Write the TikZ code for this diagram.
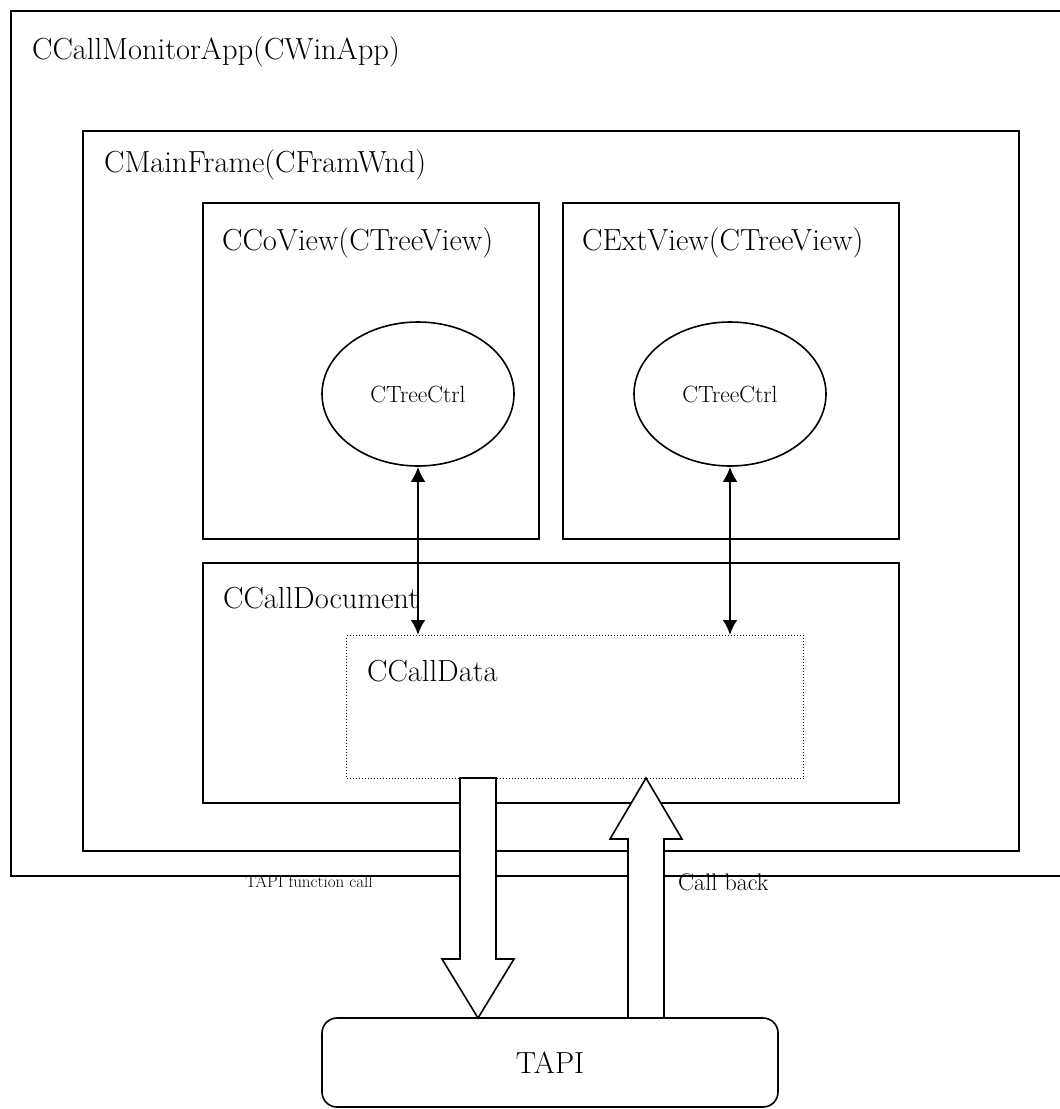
\documentclass[tikz,border=0pt]{standalone}
\usepackage{fontspec}
\usetikzlibrary{positioning, calc, shapes.geometric, arrows.meta}

\begin{document}
\begin{tikzpicture}[
    x=1pt, y=-1pt,
    frame/.style={
      draw, line width=1.6pt, anchor=north west, inner sep=0pt
    },
    title/.style={
      anchor=base west, inner sep=0pt, font=\fontsize{30.5}{36}\selectfont
    },
    ctrl/.style={
      ellipse, draw, line width=1.6pt, minimum width=192pt, minimum height=144pt,
      inner sep=0pt, font=\fontsize{23.5}{28}\selectfont
    },
    link/.style={line width=2.6pt, <->},
    bigarrow/.style={draw, line width=1.6pt, fill=white, line join=miter},
    >={Latex[length=15pt, width=15pt]},
  ]
    \useasboundingbox (0,0) rectangle (1060,1109);

    % frames
    \node [frame, minimum width=1052pt, minimum height=865pt] (app) at (10,10) {};
    \node [frame, minimum width=936pt, minimum height=720pt] (main_frame) at (82,130) {};
    \node [frame, minimum width=336pt, minimum height=336pt] (co_view) at (202,202) {};
    \node [frame, minimum width=336pt, minimum height=336pt] (ext_view) at (562,202) {};
    \node [frame, minimum width=696pt, minimum height=240pt] (call_doc) at (202,562) {};
    \node [frame, line width=1pt, dotted, minimum width=457pt, minimum height=143pt] (call_data) at (346,635) {};
    \node [frame, rounded corners=15pt, minimum width=456pt, minimum height=89pt, anchor=center] (tapi) at (550,1062.5) {};
    \node [font=\fontsize{30.5}{36}\selectfont] at (tapi.center) {TAPI};

    % titles
    \node [title] (app_title) at ($(app.north west)+(22,49)$) {CCallMonitorApp(CWinApp)};
    \node [title] (main_title) at ($(main_frame.north west)+(22,42)$) {CMainFrame(CFramWnd)};
    \node [title] (co_title) at ($(co_view.north west)+(20,48)$) {CCoView(CTreeView)};
    \node [title] (ext_title) at ($(ext_view.north west)+(20,48)$) {CExtView(CTreeView)};
    \node [title] (doc_title) at ($(call_doc.north west)+(21,46)$) {CCallDocument};
    \node [title] (data_title) at ($(call_data.north west)+(21,46)$) {CCallData};

    % tree controls
    \node [ctrl] (co_tree) at (418,394) {CTreeCtrl};
    \node [ctrl] (ext_tree) at (730,394) {CTreeCtrl};

    % links to the data
    \draw [link] (co_tree.south) -- (co_tree.south |- call_data.north);
    \draw [link] (ext_tree.south) -- (ext_tree.south |- call_data.north);

    % TAPI calls
    \coordinate (func_top) at (478,778);
    \coordinate (back_base) at (646,1018);
    \draw [bigarrow] (func_top) ++(-18,0) -- ++(0,181) -- ++(-18,0) -- ++(36,59)
      -- ++(36,-59) -- ++(-18,0) -- ++(0,-181) -- cycle;
    \draw [bigarrow] (back_base) ++(-18,0) -- ++(0,-179) -- ++(-18,0) -- ++(36,-61)
      -- ++(36,61) -- ++(-18,0) -- ++(0,179) -- cycle;
    \node [font=\fontsize{17}{20}\selectfont] (func_label) at (309,882) {TAPI function call};
    \node [anchor=west, inner sep=0pt, font=\fontsize{24}{28}\selectfont] (back_label) at (678,882) {Call back};

  \end{tikzpicture}
\end{document}
